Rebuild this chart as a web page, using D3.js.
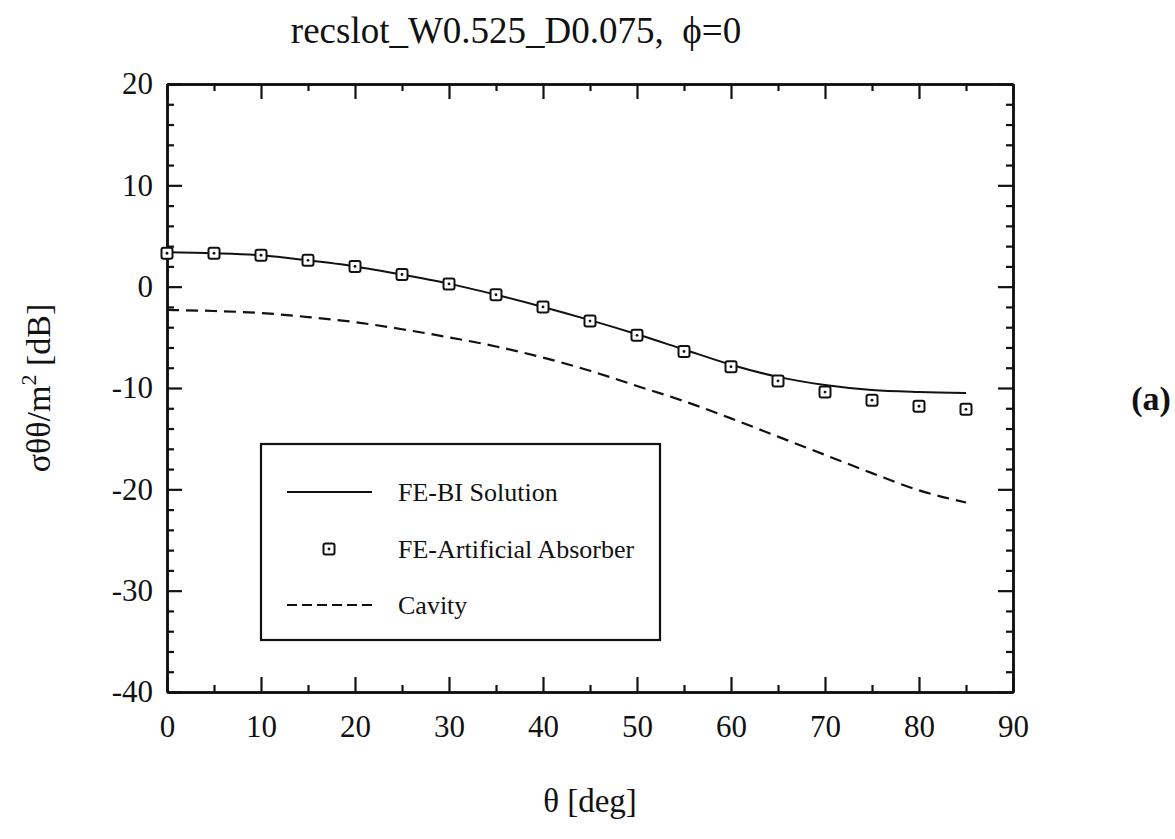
<!DOCTYPE html>
<html>
<head>
<meta charset="utf-8">
<script src="https://cdn.jsdelivr.net/npm/d3@7"></script>
<style>
  html, body { margin: 0; padding: 0; background: #fff; }
  svg { display: block; }
  text { font-family: "Liberation Serif", "DejaVu Serif", serif; fill: #111; white-space: pre; }
</style>
</head>
<body>
<svg id="chart" width="1175" height="839"></svg>
<script>
// ---- data ----
const theta = [0, 5, 10, 15, 20, 25, 30, 35, 40, 45, 50, 55, 60, 65, 70, 75, 80, 85];
const feBiSolution = [3.4, 3.3, 3.1, 2.6, 2.0, 1.2, 0.3, -0.8, -2.0, -3.3, -4.7, -6.2, -7.7, -8.9, -9.7, -10.2, -10.4, -10.5];
const feArtificialAbsorber = [3.3, 3.3, 3.1, 2.6, 2.0, 1.2, 0.27, -0.8, -2.0, -3.4, -4.8, -6.4, -7.9, -9.3, -10.4, -11.2, -11.8, -12.1];
const cavity = [-2.3, -2.4, -2.6, -3.0, -3.5, -4.2, -5.0, -5.9, -7.0, -8.3, -9.8, -11.3, -13.0, -14.8, -16.6, -18.4, -20.1, -21.3];
const xTicks = [0, 10, 20, 30, 40, 50, 60, 70, 80, 90];
const xMinorTicks = [5, 15, 25, 35, 45, 55, 65, 75, 85];
const yTicks = [-40, -30, -20, -10, 0, 10, 20];
const yMinorTicks = [-38, -36, -34, -32, -28, -26, -24, -22, -18, -16, -14, -12, -8, -6, -4, -2, 2, 4, 6, 8, 12, 14, 16, 18];
const legendLabels = ["FE-BI Solution", "FE-Artificial Absorber", "Cavity"];
const titleText = "recslot_W0.525_D0.075,  \u03d5=0";

// ---- layout ----
const L = 167, R = 1013, T = 84, B = 692;
const svg = d3.select("#chart");
const x = d3.scaleLinear().domain([0, 90]).range([L, R]);
const y = d3.scaleLinear().domain([-40, 20]).range([B, T]);
const fmt = d => String(d);

function styleAxis(g) {
  g.select(".domain").attr("stroke", "#111").attr("stroke-width", 2.5);
  g.selectAll(".tick line").attr("stroke", "#111").attr("stroke-width", 2.2);
  g.selectAll("text").attr("font-size", 31).attr("fill", "#111")
    .attr("font-family", "'Liberation Serif', serif");
}

// bottom axis with labels
svg.append("g").attr("transform", `translate(0,${B})`)
  .call(d3.axisBottom(x).tickValues(xTicks).tickSize(-15).tickSizeOuter(0).tickPadding(23).tickFormat(fmt))
  .call(styleAxis);
svg.append("g").attr("transform", `translate(0,${B})`)
  .call(d3.axisBottom(x).tickValues(xMinorTicks).tickSize(-7).tickSizeOuter(0).tickFormat(""))
  .call(styleAxis);
// top axis
svg.append("g").attr("transform", `translate(0,${T})`)
  .call(d3.axisTop(x).tickValues(xTicks).tickSize(-15).tickSizeOuter(0).tickFormat(""))
  .call(styleAxis);
svg.append("g").attr("transform", `translate(0,${T})`)
  .call(d3.axisTop(x).tickValues(xMinorTicks).tickSize(-7).tickSizeOuter(0).tickFormat(""))
  .call(styleAxis);
// left axis with labels
svg.append("g").attr("transform", `translate(${L},0)`)
  .call(d3.axisLeft(y).tickValues(yTicks).tickSize(-15).tickSizeOuter(0).tickPadding(14).tickFormat(fmt))
  .call(styleAxis);
svg.append("g").attr("transform", `translate(${L},0)`)
  .call(d3.axisLeft(y).tickValues(yMinorTicks).tickSize(-7).tickSizeOuter(0).tickFormat(""))
  .call(styleAxis);
// right axis
svg.append("g").attr("transform", `translate(${R},0)`)
  .call(d3.axisRight(y).tickValues(yTicks).tickSize(-15).tickSizeOuter(0).tickFormat(""))
  .call(styleAxis);
svg.append("g").attr("transform", `translate(${R},0)`)
  .call(d3.axisRight(y).tickValues(yMinorTicks).tickSize(-7).tickSizeOuter(0).tickFormat(""))
  .call(styleAxis);

// ---- series ----
const line = d3.line().x(d => x(d[0])).y(d => y(d[1])).curve(d3.curveMonotoneX);
svg.append("path").datum(theta.map((t, i) => [t, feBiSolution[i]]))
  .attr("d", line).attr("fill", "none").attr("stroke", "#111").attr("stroke-width", 2);
svg.append("path").datum(theta.map((t, i) => [t, cavity[i]]))
  .attr("d", line).attr("fill", "none").attr("stroke", "#111").attr("stroke-width", 2.2)
  .attr("stroke-dasharray", "12,7");

function drawMarker(g, cx, cy) {
  g.append("rect").attr("x", cx - 5.5).attr("y", cy - 5.5).attr("width", 11).attr("height", 11)
    .attr("rx", 2).attr("fill", "#fff").attr("stroke", "#111").attr("stroke-width", 2);
  g.append("circle").attr("cx", cx).attr("cy", cy).attr("r", 1.4).attr("fill", "#111");
}
const mk = svg.append("g");
theta.forEach((t, i) => drawMarker(mk, x(t), y(feArtificialAbsorber[i])));

// ---- legend ----
const lg = svg.append("g");
lg.append("rect").attr("x", 261).attr("y", 444).attr("width", 399).attr("height", 196)
  .attr("fill", "#fff").attr("stroke", "#111").attr("stroke-width", 2.2);
const rowsY = [492, 549, 605];
lg.append("line").attr("x1", 287).attr("x2", 372).attr("y1", rowsY[0]).attr("y2", rowsY[0])
  .attr("stroke", "#111").attr("stroke-width", 2);
drawMarker(lg, 329, rowsY[1]);
lg.append("line").attr("x1", 287).attr("x2", 372).attr("y1", rowsY[2]).attr("y2", rowsY[2])
  .attr("stroke", "#111").attr("stroke-width", 2).attr("stroke-dasharray", "10,5");
legendLabels.forEach((s, i) => {
  lg.append("text").attr("x", 398).attr("y", rowsY[i] + 9).attr("font-size", 26).text(s);
});

// ---- titles ----
svg.append("text").attr("x", 516).attr("y", 43).attr("text-anchor", "middle")
  .attr("font-size", 37).text(titleText);
svg.append("text").attr("x", 590).attr("y", 812).attr("text-anchor", "middle")
  .attr("font-size", 33).text("\u03b8 [deg]");
const yl = svg.append("text").attr("transform", "translate(50,388) rotate(-90)")
  .attr("text-anchor", "middle").attr("font-size", 34);
yl.append("tspan").text("\u03c3\u03b8\u03b8/m");
yl.append("tspan").attr("font-size", 22).attr("dy", -14).text("2");
yl.append("tspan").attr("dy", 14).text(" [dB]");
svg.append("text").attr("x", 1151).attr("y", 410).attr("text-anchor", "middle")
  .attr("font-size", 34).attr("font-weight", "bold").text("(a)");
</script>
</body>
</html>
